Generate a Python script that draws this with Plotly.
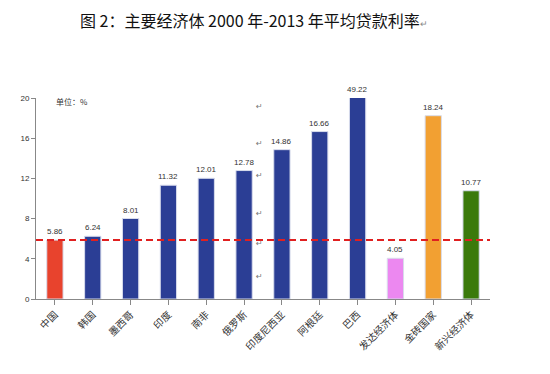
import plotly.graph_objects as go

categories = ["中国", "韩国", "墨西哥", "印度", "南非", "俄罗斯", "印度尼西亚", "阿根廷", "巴西", "发达经济体", "金砖国家", "新兴经济体"]
values = [5.86, 6.24, 8.01, 11.32, 12.01, 12.78, 14.86, 16.66, 49.22, 4.05, 18.24, 10.77]
colors = ["#E8432D"] + ["#2B3E95"] * 8 + ["#EC88F0", "#F2A032", "#3B7A0B"]
y_ticks = [0, 4, 8, 12, 16, 20]
y_max = 20
ref_value = values[0]

font_cn = "Noto Sans CJK SC"

fig = go.Figure()
fig.add_trace(go.Bar(
    x=categories, y=values,
    marker=dict(color=colors, line=dict(color="#D8DCEC", width=1)),
    width=0.43,
))

for c, v in zip(categories, values):
    fig.add_annotation(x=c, y=min(v, y_max), text=f"{v:.2f}", showarrow=False,
                       yanchor="bottom", yshift=2,
                       font=dict(size=8, color="#333333", family="Liberation Sans"))

fig.add_shape(type="line", xref="paper", x0=0, x1=1, y0=ref_value, y1=ref_value,
              line=dict(color="#E02020", width=2, dash="7px,4px"))

fig.add_annotation(xref="paper", yref="paper", x=0.04, y=0.985, text="单位：%",
                   showarrow=False, xanchor="left", yanchor="middle",
                   font=dict(size=8, color="#333333", family=font_cn))

for yy in [100, 137, 175, 213, 250, 283]:
    fig.add_annotation(xref="paper", yref="paper", x=(259 - 36) / 454, y=(299 - yy) / 201,
                       text="↵", showarrow=False,
                       font=dict(size=8, color="#777777", family="DejaVu Sans"))

fig.update_layout(
    width=550, height=374,
    margin=dict(l=28, r=68, t=90, b=83, autoexpand=False),
    paper_bgcolor="white", plot_bgcolor="white",
    showlegend=False,
    title=dict(text="图 2：主要经济体 2000 年-2013 年平均贷款利率<span style='font-size:9px;color:#888'>↵</span>",
               x=72 / 550, xanchor="left", xref="container", y=1 - 13 / 374, yanchor="middle",
               yref="container", automargin=False,
               font=dict(size=16, color="#111111", family=font_cn)),
    xaxis=dict(showline=True, linecolor="#888888", linewidth=1, ticks="outside",
               ticklen=5, tickcolor="#888888", tickangle=-45, automargin=False,
               tickfont=dict(size=10, color="#333333", family=font_cn),
               showgrid=False, range=[-0.5, 11.5]),
    yaxis=dict(range=[0, y_max], tickvals=y_ticks, showline=True, linecolor="#888888",
               linewidth=1, ticks="outside", ticklen=4, tickcolor="#888888", automargin=False,
               tickfont=dict(size=8, color="#333333", family="Liberation Sans"),
               showgrid=False, zeroline=False),
)

fig.write_html("out.html")
